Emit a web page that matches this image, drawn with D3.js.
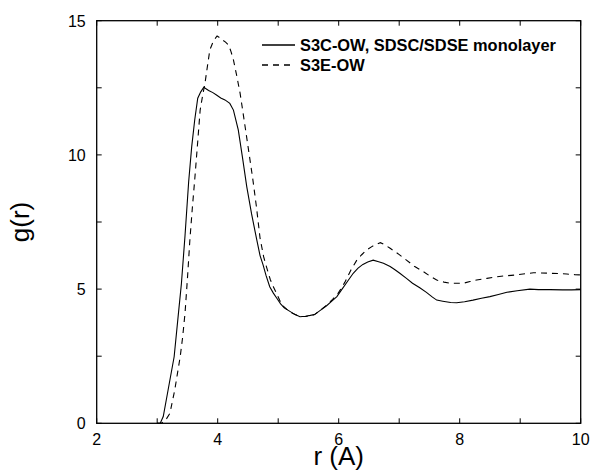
<!DOCTYPE html>
<html><head><meta charset="utf-8">
<script src="https://cdn.jsdelivr.net/npm/d3@7"></script>
<style>body{margin:0;background:#fff}svg{display:block}text{font-family:"Liberation Sans",Arial,Helvetica,sans-serif}</style>
</head><body>
<script>
const xTicks=[2,4,6,8,10];
const xMinor=[3,5,7,9];
const yTicks=[0,5,10,15];
const yMinor=[2.5,7.5,12.5];
const seriesNames=["S3C-OW, SDSC/SDSE monolayer","S3E-OW"];
const rSolid=[3.00,3.05,3.10,3.18,3.28,3.36,3.40,3.46,3.52,3.57,3.62,3.67,3.72,3.77,3.85,3.92,3.98,4.05,4.12,4.20,4.26,4.34,4.41,4.48,4.56,4.64,4.70,4.75,4.80,4.86,4.92,4.98,5.04,5.10,5.20,5.28,5.36,5.45,5.53,5.60,5.69,5.80,5.90,5.97,6.05,6.15,6.24,6.32,6.40,6.48,6.57,6.66,6.74,6.85,6.93,7.01,7.12,7.22,7.34,7.45,7.55,7.62,7.72,7.85,7.95,8.08,8.22,8.36,8.50,8.64,8.78,8.95,9.16,9.30,9.49,9.70,9.85,10.0];
const gSolid=[0,0,0.25,1.24,2.48,4.3,5.2,7.0,9.0,10.3,11.3,12.11,12.35,12.52,12.40,12.32,12.23,12.12,12.05,11.92,11.67,10.93,9.9,8.82,7.8,6.9,6.25,5.9,5.5,5.09,4.85,4.65,4.45,4.30,4.16,4.05,3.97,3.99,4.02,4.05,4.2,4.38,4.58,4.72,4.98,5.30,5.59,5.78,5.92,6.01,6.08,6.02,5.96,5.84,5.72,5.59,5.40,5.22,5.05,4.88,4.70,4.59,4.55,4.50,4.49,4.53,4.59,4.66,4.72,4.80,4.88,4.94,5.0,4.98,4.98,4.97,4.97,4.98];
const rDashed=[3.00,3.07,3.14,3.21,3.29,3.38,3.42,3.46,3.50,3.54,3.58,3.62,3.67,3.71,3.75,3.79,3.83,3.87,3.93,3.99,4.04,4.08,4.13,4.18,4.22,4.26,4.31,4.37,4.44,4.51,4.58,4.64,4.70,4.76,4.81,4.87,4.92,4.98,5.06,5.14,5.20,5.28,5.36,5.45,5.53,5.60,5.69,5.80,5.90,5.99,6.10,6.20,6.30,6.38,6.46,6.56,6.63,6.69,6.77,6.85,6.98,7.12,7.25,7.40,7.52,7.62,7.74,7.84,7.95,8.06,8.17,8.28,8.45,8.61,8.78,8.94,9.08,9.22,9.35,9.49,9.63,9.77,9.90,10.0];
const gDashed=[0,0,0.12,0.37,1.24,2.48,3.2,4.1,5.4,6.83,8.0,9.07,10.5,11.67,12.2,12.67,13.3,13.91,14.25,14.43,14.36,14.28,14.2,14.09,13.85,13.54,13.0,12.30,11.25,10.18,9.1,8.07,6.9,6.2,5.8,5.35,5.09,4.8,4.41,4.25,4.14,4.05,3.98,3.98,4.0,4.05,4.2,4.40,4.62,4.84,5.25,5.70,6.08,6.28,6.46,6.60,6.68,6.73,6.64,6.52,6.32,6.08,5.85,5.65,5.47,5.34,5.26,5.22,5.22,5.22,5.28,5.34,5.40,5.46,5.50,5.53,5.57,5.61,5.60,5.59,5.58,5.56,5.54,5.53];

const W=592,H=472;
const L=96.7,R=580.7,T=20.7,B=423.3;
const svg=d3.select("body").append("svg").attr("width",W).attr("height",H);
const x=d3.scaleLinear().domain([2,10]).range([L,R]);
const y=d3.scaleLinear().domain([0,15]).range([B,T]);
const tl=5;

const g=svg.append("g").attr("stroke","#000").attr("stroke-width",1);
[...xTicks,...xMinor].forEach(v=>{
  g.append("line").attr("x1",x(v)).attr("x2",x(v)).attr("y1",B).attr("y2",B-tl);
  g.append("line").attr("x1",x(v)).attr("x2",x(v)).attr("y1",T).attr("y2",T+tl);
});
[...yTicks,...yMinor].forEach(v=>{
  g.append("line").attr("y1",y(v)).attr("y2",y(v)).attr("x1",L).attr("x2",L+tl);
  g.append("line").attr("y1",y(v)).attr("y2",y(v)).attr("x1",R).attr("x2",R-tl);
});
svg.append("rect").attr("x",L).attr("y",T).attr("width",R-L).attr("height",B-T)
  .attr("fill","none").attr("stroke","#000").attr("stroke-width",1.3);

xTicks.forEach(v=>svg.append("text").attr("x",x(v)).attr("y",B+22).attr("text-anchor","middle")
  .attr("font-size",16).text(v));
yTicks.forEach(v=>svg.append("text").attr("x",L-11).attr("y",y(v)+6).attr("text-anchor","end")
  .attr("font-size",16).text(v));

svg.append("text").attr("x",(L+R)/2).attr("y",465).attr("text-anchor","middle").attr("font-size",26).text("r (A)");
svg.append("text").attr("transform",`translate(29,${(T+B)/2}) rotate(-90)`).attr("text-anchor","middle").attr("font-size",26).text("g(r)");

const line=d3.line().x(d=>x(d[0])).y(d=>y(d[1]));
const solid=rSolid.map((r,i)=>[r,gSolid[i]]);
const dashed=rDashed.map((r,i)=>[r,gDashed[i]]);
svg.append("path").attr("d",line(solid)).attr("fill","none").attr("stroke","#000").attr("stroke-width",1.1);
svg.append("path").attr("d",line(dashed)).attr("fill","none").attr("stroke","#000").attr("stroke-width",1.1).attr("stroke-dasharray","6,5");

const lg=[{y:45,dash:null},{y:65,dash:"6,5"}];
lg.forEach((d,i)=>{
  const ln=svg.append("line").attr("x1",262).attr("x2",295).attr("y1",d.y).attr("y2",d.y)
    .attr("stroke","#000").attr("stroke-width",1.4);
  if(d.dash) ln.attr("stroke-dasharray",d.dash);
  svg.append("text").attr("x",300).attr("y",d.y+6).attr("font-size",16.4).attr("font-weight","bold").text(seriesNames[i]);
});
</script>
</body></html>
